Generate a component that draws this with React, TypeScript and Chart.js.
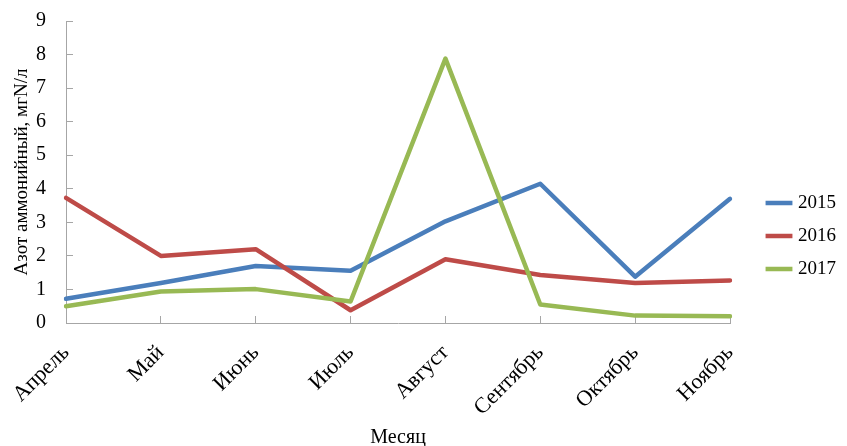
import React, { useEffect, useRef } from "react";
import { Chart, registerables } from "chart.js";

Chart.register(...registerables);

const months = ["Апрель", "Май", "Июнь", "Июль", "Август", "Сентябрь", "Октябрь", "Ноябрь"];
const seriesNames = ["2015", "2016", "2017"];
const values2015 = [0.72, 1.19, 1.7, 1.56, 3.03, 4.15, 1.38, 3.7];
const values2016 = [3.73, 2.0, 2.2, 0.38, 1.9, 1.43, 1.19, 1.27];
const values2017 = [0.5, 0.94, 1.01, 0.64, 7.88, 0.55, 0.22, 0.2];
const seriesColors = ["#4A7EBB", "#BE4B48", "#98B954"];
const yAxisTitle = "Азот аммонийный, мгN/л";
const xAxisTitle = "Месяц";
const yMin = 0;
const yMax = 9;
const yStep = 1;

const FONT_FAMILY = '"Liberation Serif", "Times New Roman", serif';
const AXIS_GRAY = "#a6a6a6";

const legendPlace = {
  id: "legendPlace",
  beforeLayout(chart: any) {
    const lg = chart.legend;
    if (lg && !lg.__patched) {
      const orig = lg.fit;
      lg.fit = function () {
        orig.call(this);
        this.width = 117;
      };
      lg.__patched = true;
    }
  },
  afterLayout(chart: any) {
    const lg = chart.legend;
    if (!lg) return;
    const w = lg.right - lg.left;
    lg.left = 755.5;
    lg.right = lg.left + w;
    lg.top = 0;
    lg.bottom = 472;
  },
};

export default function App() {
  const ref = useRef<HTMLCanvasElement | null>(null);

  useEffect(() => {
    document.body.style.margin = "0";
    const canvas = ref.current;
    if (!canvas) return;
    const all = [values2015, values2016, values2017];
    const chart = new Chart(canvas, {
      type: "line",
      data: {
        labels: months,
        datasets: seriesNames.map((name, i) => ({
          label: name,
          data: all[i],
          borderColor: seriesColors[i],
          backgroundColor: seriesColors[i],
          borderWidth: 4.5,
          borderCapStyle: "round",
          borderJoinStyle: "round",
          pointRadius: 0,
          pointHoverRadius: 0,
          tension: 0,
          fill: false,
          order: 3 - i,
        })),
      },
      options: {
        responsive: true,
        maintainAspectRatio: false,
        animation: false,
        layout: { padding: { top: 21, right: 0, bottom: 0, left: 0 } },
        plugins: {
          tooltip: { enabled: false },
          title: { display: false },
          legend: {
            display: true,
            position: "right",
            labels: {
              usePointStyle: true,
              pointStyle: "line",
              padding: 14,
              color: "#000",
              font: { family: FONT_FAMILY, size: 19 },
              sort: (a: any, b: any) => a.datasetIndex - b.datasetIndex,
            },
          },
        },
        scales: {
          x: {
            type: "category",
            offset: false,
            grid: {
              display: true,
              drawOnChartArea: false,
              drawTicks: true,
              tickLength: -7,
              color: AXIS_GRAY,
              offset: false,
            },
            border: { display: true, color: AXIS_GRAY, width: 1 },
            ticks: {
              autoSkip: false,
              minRotation: 45,
              maxRotation: 45,
              padding: 24,
              color: "#000",
              font: { family: FONT_FAMILY, size: 22 },
            },
            title: {
              display: true,
              text: xAxisTitle,
              color: "#000",
              font: { family: FONT_FAMILY, size: 20 },
              padding: { top: 0, bottom: -4 },
            },
            afterFit: (s: any) => {
              s.height = 123;
              s.paddingLeft = 0;
              s.paddingRight = 0;
            },
          },
          y: {
            type: "linear",
            min: yMin,
            max: yMax,
            grid: {
              display: true,
              drawOnChartArea: false,
              drawTicks: true,
              tickLength: -7,
              color: AXIS_GRAY,
            },
            border: { display: true, color: AXIS_GRAY, width: 1 },
            ticks: {
              stepSize: yStep,
              padding: 27,
              color: "#000",
              font: { family: FONT_FAMILY, size: 20 },
            },
            title: {
              display: true,
              text: yAxisTitle,
              color: "#000",
              font: { family: FONT_FAMILY, size: 19 },
              padding: { top: 11, bottom: 0 },
            },
            afterFit: (s: any) => {
              s.width = 66;
              s.paddingTop = 0;
              s.paddingBottom = 0;
            },
          },
        },
      },
      plugins: [legendPlace],
    });
    return () => chart.destroy();
  }, []);

  return (
    <div style={{ position: "relative", width: 847, height: 446 }}>
      <canvas ref={ref} />
    </div>
  );
}
